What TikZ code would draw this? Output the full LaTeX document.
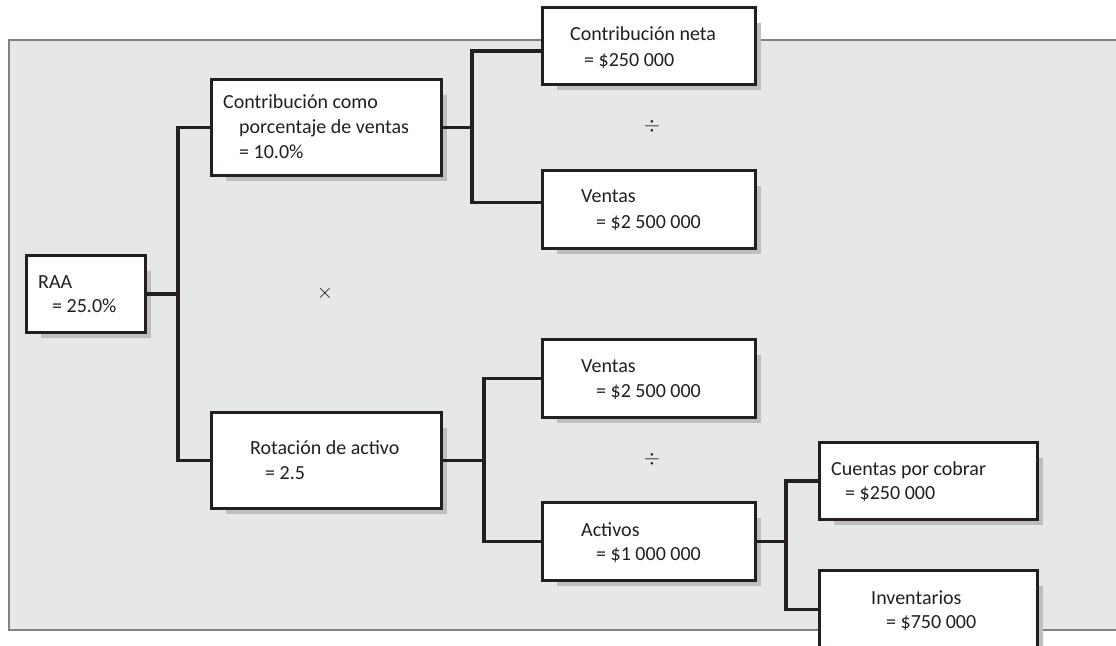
\documentclass[tikz,border=0pt]{standalone}
\usepackage{fontspec}
\setmainfont{Carlito}
\usetikzlibrary{calc}
\definecolor{panelfill}{HTML}{E6E7E9}
\definecolor{panelline}{HTML}{808183}
\definecolor{shadowc}{HTML}{BDBEC0}
\definecolor{ink}{HTML}{231F20}
\tikzset{
  box/.style={draw=ink, fill=white, line width=2pt, rectangle, inner sep=0pt, anchor=north west},
  conn/.style={draw=ink, line width=3.4pt},
  txt/.style={anchor=base west, inner sep=0pt, text=ink, font=\fontsize{20}{24}\selectfont},
  sym/.style={inner sep=0pt, text=ink, font=\fontsize{20}{24}\selectfont}
}
\newcommand{\bx}[5]{%
  \fill[shadowc] (#2+15,#3+16) rectangle (#2+#4+7,#3+#5+7);
  \node[box, minimum width=#4pt, minimum height=#5pt] (#1) at (#2,#3) {};
}
\begin{document}
\begin{tikzpicture}[x=1pt,y=-1pt]
\useasboundingbox (0,0) rectangle (1116,645);
\clip (0,0) rectangle (1116,645);
% panel
\fill[panelfill] (9,40) rectangle (1125,630);
\draw[panelline, line width=1.8pt] (1125,40) -- (9,40) -- (9,630) -- (1125,630);

% boxes
\bx{raa}{26}{255}{118}{76}
\bx{cc}{211}{79}{229}{95}
\bx{cn}{542}{7}{212}{76}
\bx{va}{542}{170}{212}{77}
\bx{rot}{211}{412}{229}{95}
\bx{vb}{542}{339}{212}{77}
\bx{act}{542}{502}{212}{77}
\bx{cxc}{819}{442}{217}{76}
\bx{inv}{819}{570}{217}{77}

% junctions
\coordinate (j1) at ([xshift=32pt]raa.east);
\coordinate (j2) at ([xshift=30pt]cc.east);
\coordinate (j3) at ([xshift=42pt]rot.east);
\coordinate (j4) at ([xshift=30pt]act.east);

% connectors
\draw[conn] (raa.east) -- (j1);
\draw[conn] (cc.west) -| (j1) |- (rot.west);
\draw[conn] (cc.east) -- (j2);
\draw[conn] ($(cn.west)+(0,5)$) -| (j2) |- ($(va.west)+(0,-7)$);
\draw[conn] (rot.east) -- (j3);
\draw[conn] (vb.west) -| (j3) |- (act.west);
\draw[conn] (act.east) -- (j4);
\draw[conn] (cxc.west) -| (j4) |- (inv.west);

% redraw box borders over connector ends
\foreach \n in {raa,cc,cn,va,rot,vb,act,cxc,inv}{
  \draw[ink, line width=2pt] (\n.north west) rectangle (\n.south east);
}

% texts
\node[txt] (t1a) at (38,288) {RAA};
\node[txt] (t1b) at (52,312) {= 25.0\%};
\node[txt] (t2a) at (223,108) {Contribución como};
\node[txt] (t2b) at (239,133) {porcentaje de ventas};
\node[txt] (t2c) at (239,158) {= 10.0\%};
\node[txt] (t3a) at (570,40) {Contribución neta};
\node[txt] (t3b) at (584,66) {= \$250 000};
\node[txt] (t4a) at (581,202) {Ventas};
\node[txt] (t4b) at (596,228) {= \$2 500 000};
\node[txt] (t5a) at (250,454) {Rotación de activo};
\node[txt] (t5b) at (265,479) {= 2.5};
\node[txt] (t6a) at (581,372) {Ventas};
\node[txt] (t6b) at (596,397) {= \$2 500 000};
\node[txt] (t7a) at (581,536) {Activos};
\node[txt] (t7b) at (596,560) {= \$1 000 000};
\node[txt] (t8a) at (831,475) {Cuentas por cobrar};
\node[txt] (t8b) at (845,499) {= \$250 000};
\node[txt] (t9a) at (871,604) {Inventarios};
\node[txt] (t9b) at (886,628) {= \$750 000};

% operators
\node[sym] (times) at (325,293) {$\times$};
\node[sym] (div1) at (652,126) {$\div$};
\node[sym] (div2) at (652,459) {$\div$};
\end{tikzpicture}
\end{document}
